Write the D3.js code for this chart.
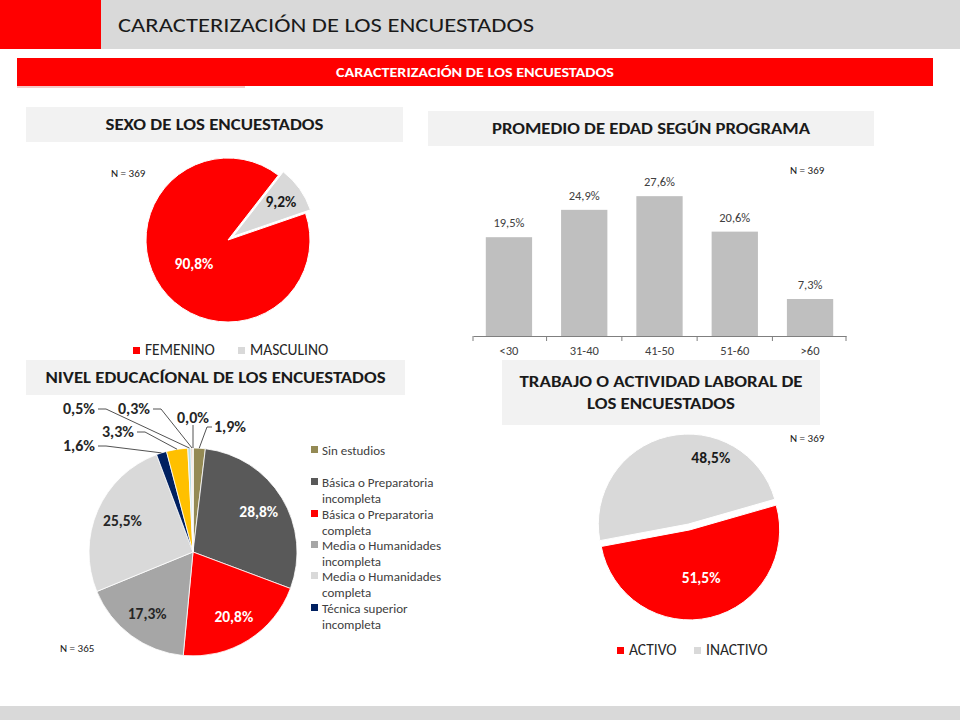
<!DOCTYPE html>
<html>
<head>
<meta charset="utf-8">
<script src="https://cdn.jsdelivr.net/npm/d3@7"></script>
<style>
  body { margin: 0; background: #fff; }
  svg text { font-family: Carlito, "Open Sans", sans-serif; }
</style>
</head>
<body>
<div id="chart"></div>
<script>
// --- data ---
const sexLabels = ["FEMENINO", "MASCULINO"];
const sexValues = [90.8, 9.2];

const ageCats = ["<30", "31-40", "41-50", "51-60", ">60"];
const ageValues = [19.5, 24.9, 27.6, 20.6, 7.3];

const eduLabels = ["Sin estudios", "Básica o Preparatoria incompleta", "Básica o Preparatoria completa",
    "Media o Humanidades incompleta", "Media o Humanidades completa", "Técnica superior incompleta",
    "Técnica superior completa", "Universitaria incompleta", "Universitaria completa", "Postgrado"];
const eduValues = [1.9, 28.8, 20.8, 17.3, 25.5, 1.6, 3.3, 0.5, 0.3, 0.0];
const eduLegendShown = 6;

const workLabels = ["ACTIVO", "INACTIVO"];
const workValues = [51.5, 48.5];

const fmt = v => d3.format(".1f")(v).replace(".", ",") + "%";
const rad = deg => deg * Math.PI / 180;

const width = 960, height = 720;
const svg = d3.select("#chart").append("svg")
    .attr("width", width)
    .attr("height", height);

// header
svg.append("rect").attr("x", 0).attr("y", 0).attr("width", width).attr("height", 49).attr("fill", "#d9d9d9");
svg.append("rect").attr("x", 0).attr("y", 0).attr("width", 101).attr("height", 49).attr("fill", "#ff0000");
svg.append("text").attr("x", 118).attr("y", 32)
    .attr("font-size", 21).attr("fill", "#1a1a1a")
    .attr("textLength", 416).attr("lengthAdjust", "spacingAndGlyphs")
    .text("CARACTERIZACIÓN DE LOS ENCUESTADOS");

svg.append("rect").attr("x", 17).attr("y", 86).attr("width", 228).attr("height", 2).attr("fill", "#f3c9c9");
svg.append("rect").attr("x", 17).attr("y", 58).attr("width", 916).attr("height", 28).attr("fill", "#ff0000");
svg.append("text").attr("x", 475).attr("y", 77).attr("text-anchor", "middle")
    .attr("font-size", 13).attr("font-weight", "bold").attr("fill", "#fff")
    .attr("textLength", 278).attr("lengthAdjust", "spacingAndGlyphs")
    .text("CARACTERIZACIÓN DE LOS ENCUESTADOS");

// footer
svg.append("rect").attr("x", 0).attr("y", 706).attr("width", width).attr("height", 14).attr("fill", "#d9d9d9");

// panel title boxes
function titleBox(x, y, w, h, lines, tl) {
    svg.append("rect").attr("x", x).attr("y", y).attr("width", w).attr("height", h).attr("fill", "#f2f2f2");
    const lh = 22;
    const y0 = y + h / 2 - (lines.length - 1) * lh / 2 + 5;
    lines.forEach((t, i) => {
        svg.append("text").attr("x", x + w / 2).attr("y", y0 + i * lh)
            .attr("text-anchor", "middle").attr("font-size", 16).attr("font-weight", "bold")
            .attr("fill", "#1a1a1a")
            .attr("textLength", tl[i]).attr("lengthAdjust", "spacingAndGlyphs")
            .text(t);
    });
}
titleBox(26, 107, 377, 35, ["SEXO DE LOS ENCUESTADOS"], [218]);
titleBox(428, 111, 446, 35, ["PROMEDIO DE EDAD SEGÚN PROGRAMA"], [318]);
titleBox(26, 360, 379, 35, ["NIVEL EDUCACÍONAL DE LOS ENCUESTADOS"], [340]);
titleBox(502, 360, 318, 65, ["TRABAJO O ACTIVIDAD LABORAL DE", "LOS ENCUESTADOS"], [283, 148]);

function nLabel(x, y, t) {
    svg.append("text").attr("x", x).attr("y", y).attr("font-size", 11).attr("fill", "#1a1a1a").text(t);
}

function legend(x, y, labels, colors, gap) {
    labels.forEach((l, i) => {
        const g = svg.append("g").attr("transform", `translate(${x + gap[i]},${y})`);
        g.append("rect").attr("x", 0).attr("y", -8).attr("width", 7).attr("height", 7).attr("fill", colors[i]);
        g.append("text").attr("x", 12).attr("y", 0).attr("font-size", 15.5).attr("fill", "#262626").text(l);
    });
}

// --- pie 1: sexo ---
(function () {
    const cx = 228, cy = 240, r = 82;
    const colors = ["#ff0000", "#d9d9d9"];
    const pie = d3.pie().sort(null).startAngle(rad(71)).endAngle(rad(431));
    const arcs = pie(sexValues);
    const arc = d3.arc().innerRadius(0).outerRadius(r);
    const explode = [0, 6];
    const g = svg.append("g").attr("transform", `translate(${cx},${cy})`);
    arcs.forEach((a, i) => {
        const mid = (a.startAngle + a.endAngle) / 2;
        const dx = explode[i] * Math.sin(mid), dy = -explode[i] * Math.cos(mid);
        const sg = g.append("g").attr("transform", `translate(${dx},${dy})`);
        sg.append("path").attr("d", arc(a)).attr("fill", colors[i]).attr("stroke", "#fff").attr("stroke-width", 1);
        const lr = i === 0 ? 0.51 * r : 0.72 * r;
        const c = d3.arc().innerRadius(lr).outerRadius(lr).centroid(a);
        sg.append("text").attr("x", c[0]).attr("y", c[1] + 5).attr("text-anchor", "middle")
            .attr("font-size", 15.5).attr("font-weight", "bold")
            .attr("fill", i === 0 ? "#fff" : "#1a1a1a").text(fmt(sexValues[i]));
    });
    nLabel(111, 177, "N = 369");
    legend(133, 355, sexLabels, colors, [0, 105]);
})();

// --- bar chart: edad ---
(function () {
    const x = d3.scaleBand().domain(ageCats).range([473, 846]).paddingInner(0.385).paddingOuter(0.17);
    const y = d3.scaleLinear().domain([0, 30]).range([336, 184]);
    const g = svg.append("g");
    g.selectAll("rect.bar").data(ageValues).join("rect").attr("class", "bar")
        .attr("x", (d, i) => x(ageCats[i]))
        .attr("y", d => y(d))
        .attr("width", x.bandwidth())
        .attr("height", d => y(0) - y(d))
        .attr("fill", "#bfbfbf");
    g.selectAll("text.val").data(ageValues).join("text").attr("class", "val")
        .attr("x", (d, i) => x(ageCats[i]) + x.bandwidth() / 2)
        .attr("y", d => y(d) - 10)
        .attr("text-anchor", "middle").attr("font-size", 12.5).attr("fill", "#404040")
        .text(d => fmt(d));
    const axis = d3.axisBottom(x).tickSize(0).tickPadding(10);
    const ag = g.append("g").attr("transform", `translate(0,${y(0)})`).call(axis);
    ag.select(".domain").attr("stroke", "#7f7f7f");
    ag.selectAll("text").attr("font-size", 12.5).attr("fill", "#404040")
        .style("font-family", 'Carlito, "Open Sans", sans-serif');
    const step = x.step();
    const bounds = ageCats.map(c => x(c) - step * x.paddingInner() / 2).concat([846]);
    bounds[0] = 473;
    g.selectAll("line.tk").data(bounds).join("line").attr("class", "tk")
        .attr("x1", d => d).attr("x2", d => d)
        .attr("y1", y(0)).attr("y2", y(0) + 5)
        .attr("stroke", "#7f7f7f");
    nLabel(790, 174, "N = 369");
})();

// --- pie 3: nivel educacional ---
(function () {
    const cx = 193, cy = 552, r = 104;
    const colors = ["#948a54", "#595959", "#ff0000", "#a6a6a6", "#d9d9d9", "#002060",
        "#ffc000", "#b7dee8", "#d8b4a0", "#e6b9b8"];
    const pie = d3.pie().sort(null);
    const arcs = pie(eduValues);
    const arc = d3.arc().innerRadius(0).outerRadius(r);
    const g = svg.append("g").attr("transform", `translate(${cx},${cy})`);
    g.selectAll("path").data(arcs).join("path")
        .attr("d", arc).attr("fill", (d, i) => colors[i])
        .attr("stroke", "#fff").attr("stroke-width", 0.8);

    const lr = 0.74 * r;
    const inner = d3.arc().innerRadius(lr).outerRadius(lr);
    const big = [1, 2, 3, 4];
    big.forEach(i => {
        const c = inner.centroid(arcs[i]);
        g.append("text").attr("x", c[0]).attr("y", c[1] + 5).attr("text-anchor", "middle")
            .attr("font-size", 15.5).attr("font-weight", "bold")
            .attr("fill", (i === 1 || i === 2) ? "#fff" : "#262626").text(fmt(eduValues[i]));
    });

    // outside labels for the small slices: [slice index, text x, baseline y, anchor side]
    const outside = [[0, 214, 432, "start"], [9, 177, 423, "start"], [8, 118, 414, "end"],
        [7, 63, 414, "end"], [6, 102, 437, "end"], [5, 63, 451, "end"]];
    outside.forEach(([i, tx, ty, anchor]) => {
        const a = arcs[i];
        const mid = (a.startAngle + a.endAngle) / 2;
        const px = cx + r * Math.sin(mid), py = cy - r * Math.cos(mid);
        svg.append("text").attr("x", tx).attr("y", ty).attr("text-anchor", "start")
            .attr("font-size", 15.5).attr("font-weight", "bold").attr("fill", "#262626")
            .attr("textLength", 32).attr("lengthAdjust", "spacingAndGlyphs")
            .text(fmt(eduValues[i]));
        let pts;
        if (i === 9) {
            pts = [[px, ty + 2], [px, py]];
        } else if (anchor === "start") {
            pts = [[tx - 2, ty - 5], [tx - 7, ty - 5], [px, py]];
        } else {
            const sx = tx + 32 + 3;
            pts = [[sx, ty - 5], [sx + 8, ty - 5], [px, py]];
        }
        svg.append("path").attr("d", d3.line()(pts)).attr("fill", "none")
            .attr("stroke", "#262626").attr("stroke-width", 0.8);
    });

    // legend (only first entries visible)
    const ly = [455, 487, 519, 550, 581, 613];
    const wrap = ["Sin estudios", ["Básica o Preparatoria", "incompleta"], ["Básica o Preparatoria", "completa"],
        ["Media o Humanidades", "incompleta"], ["Media o Humanidades", "completa"], ["Técnica superior", "incompleta"]];
    eduLabels.slice(0, eduLegendShown).forEach((l, i) => {
        svg.append("rect").attr("x", 311).attr("y", ly[i] - 9).attr("width", 7).attr("height", 7).attr("fill", colors[i]);
        const lines = Array.isArray(wrap[i]) ? wrap[i] : [wrap[i]];
        lines.forEach((t, j) => {
            svg.append("text").attr("x", 322).attr("y", ly[i] + j * 16).attr("font-size", 13)
                .attr("fill", "#404040").text(t);
        });
    });
    nLabel(60, 652, "N = 365");
})();

// --- pie 4: trabajo ---
(function () {
    const cx = 689, cy = 527, r = 90;
    const colors = ["#ff0000", "#d9d9d9"];
    const pie = d3.pie().sort(null).startAngle(rad(74)).endAngle(rad(434));
    const arcs = pie(workValues);
    const arc = d3.arc().innerRadius(0).outerRadius(r);
    const g = svg.append("g").attr("transform", `translate(${cx},${cy})`);
    const explode = 3;
    arcs.forEach((a, i) => {
        const mid = (a.startAngle + a.endAngle) / 2;
        const dx = explode * Math.sin(mid), dy = -explode * Math.cos(mid);
        const sg = g.append("g").attr("transform", `translate(${dx},${dy})`);
        sg.append("path").attr("d", arc(a)).attr("fill", colors[i]).attr("stroke", "#fff").attr("stroke-width", 1);
        const lr = i === 0 ? 0.55 * r : 0.75 * r;
        const c = d3.arc().innerRadius(lr).outerRadius(lr).centroid(a);
        const shift = i === 0 ? 0 : 38;
        sg.append("text").attr("x", c[0] + shift).attr("y", c[1] + 5).attr("text-anchor", "middle")
            .attr("font-size", 15.5).attr("font-weight", "bold")
            .attr("fill", i === 0 ? "#fff" : "#1a1a1a").text(fmt(workValues[i]));
    });
    nLabel(790, 442, "N = 369");
    legend(617, 655, workLabels, colors, [0, 77]);
})();
</script>
</body>
</html>
